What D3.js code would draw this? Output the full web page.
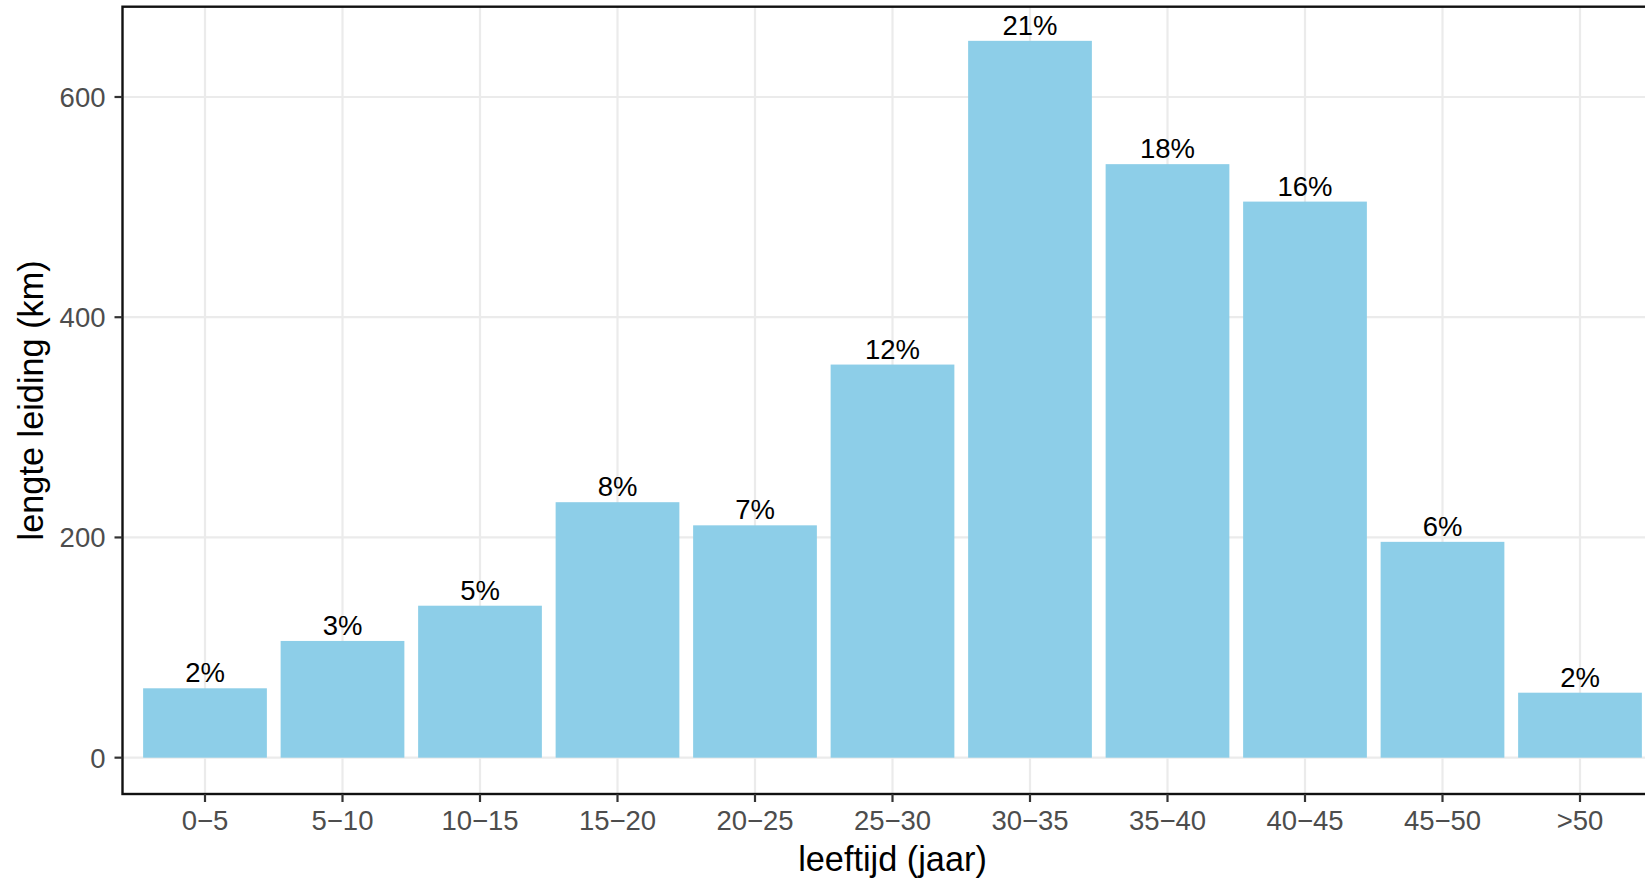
<!DOCTYPE html>
<html>
<head>
<meta charset="utf-8">
<script src="https://cdn.jsdelivr.net/npm/d3@7"></script>
<style>
  html, body { margin: 0; padding: 0; background: #fff; }
  svg { display: block; font-family: "Liberation Sans", Arial, Helvetica, sans-serif; }
</style>
</head>
<body>
<svg id="chart" width="1645" height="880"></svg>
<script>
const categories = ["0\u22125", "5\u221210", "10\u221215", "15\u221220", "20\u221225", "25\u221230", "30\u221235", "35\u221240", "40\u221245", "45\u221250", ">50"];
const lengthKm = [63, 106, 138, 232, 211, 357, 651, 539, 505, 196, 59];
const pctLabels = ["2%", "3%", "5%", "8%", "7%", "12%", "21%", "18%", "16%", "6%", "2%"];
const yTicks = [0, 200, 400, 600];
const yLimits = [-33, 682];
const xTitle = "leeftijd (jaar)";
const yTitle = "lengte leiding (km)";

const svg = d3.select("#chart");
const panel = { left: 122.5, right: 1662.5, top: 6.7, bottom: 794 };

const y = d3.scaleLinear()
  .domain(yLimits)
  .range([panel.bottom, panel.top]);

const x = d3.scaleBand()
  .domain(categories)
  .range([panel.left, panel.right])
  .paddingInner(0.1)
  .paddingOuter(0.15);

const cx = d => x(d) + x.bandwidth() / 2;

// gridlines
svg.append("g").selectAll("line.h").data(yTicks).join("line")
  .attr("x1", panel.left).attr("x2", panel.right)
  .attr("y1", d => y(d)).attr("y2", d => y(d))
  .attr("stroke", "#EBEBEB").attr("stroke-width", 2.2);

svg.append("g").selectAll("line.v").data(categories).join("line")
  .attr("x1", d => cx(d)).attr("x2", d => cx(d))
  .attr("y1", panel.top).attr("y2", panel.bottom)
  .attr("stroke", "#EBEBEB").attr("stroke-width", 2.2);

// bars
svg.append("g").selectAll("rect").data(categories).join("rect")
  .attr("x", d => x(d))
  .attr("width", x.bandwidth())
  .attr("y", (d, i) => y(lengthKm[i]))
  .attr("height", (d, i) => y(0) - y(lengthKm[i]))
  .attr("fill", "#8DCEE8");

// labels
svg.append("g").selectAll("text").data(categories).join("text")
  .attr("x", d => cx(d))
  .attr("y", (d, i) => y(lengthKm[i]) - 6)
  .attr("text-anchor", "middle")
  .attr("font-size", 27.5)
  .attr("fill", "#000")
  .text((d, i) => pctLabels[i]);

// panel border
svg.append("rect")
  .attr("x", panel.left).attr("y", panel.top)
  .attr("width", panel.right - panel.left).attr("height", panel.bottom - panel.top)
  .attr("fill", "none").attr("stroke", "#111").attr("stroke-width", 2.4);

// y axis ticks & labels
const yAxis = svg.append("g");
yAxis.selectAll("line").data(yTicks).join("line")
  .attr("x1", panel.left - 8).attr("x2", panel.left)
  .attr("y1", d => y(d)).attr("y2", d => y(d))
  .attr("stroke", "#333").attr("stroke-width", 2.2);
yAxis.selectAll("text").data(yTicks).join("text")
  .attr("x", panel.left - 17)
  .attr("y", d => y(d) + 10)
  .attr("text-anchor", "end")
  .attr("font-size", 27.5)
  .attr("fill", "#4D4D4D")
  .text(d => d);

// x axis ticks & labels
const xAxis = svg.append("g");
xAxis.selectAll("line").data(categories).join("line")
  .attr("x1", d => cx(d)).attr("x2", d => cx(d))
  .attr("y1", panel.bottom).attr("y2", panel.bottom + 8)
  .attr("stroke", "#333").attr("stroke-width", 2.2);
xAxis.selectAll("text").data(categories).join("text")
  .attr("x", d => cx(d))
  .attr("y", 830)
  .attr("text-anchor", "middle")
  .attr("font-size", 27.5)
  .attr("fill", "#4D4D4D")
  .text(d => d);

// titles
svg.append("text")
  .attr("x", (panel.left + panel.right) / 2)
  .attr("y", 870.5)
  .attr("text-anchor", "middle")
  .attr("font-size", 34.3)
  .attr("fill", "#000")
  .text(xTitle);

svg.append("text")
  .attr("transform", `translate(42.7,${(panel.top + panel.bottom) / 2}) rotate(-90)`)
  .attr("text-anchor", "middle")
  .attr("font-size", 34.3)
  .attr("fill", "#000")
  .text(yTitle);
</script>
</body>
</html>
